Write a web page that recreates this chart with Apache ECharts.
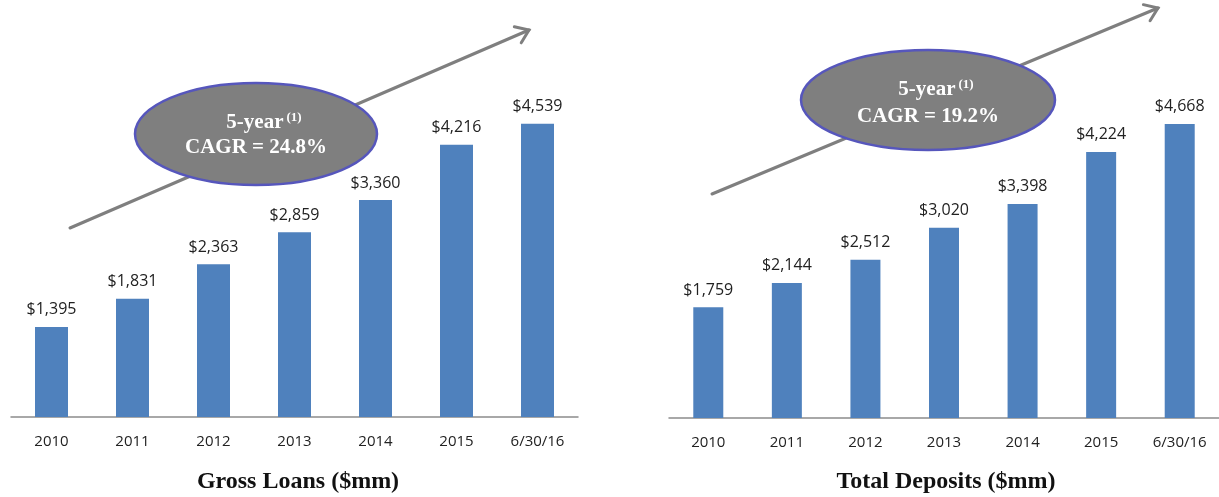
<!DOCTYPE html>
<html>
<head>
<meta charset="utf-8">
<script src="https://cdn.jsdelivr.net/npm/echarts@6/dist/echarts.min.js"></script>
<style>
html,body{margin:0;padding:0;background:#fff;}
#main{width:1219px;height:497px;}
</style>
</head>
<body>
<div id="main"></div>
<script>
var categories = ['2010', '2011', '2012', '2013', '2014', '2015', '6/30/16'];
var grossLoans = [1395, 1831, 2363, 2859, 3360, 4216, 4539];
var totalDeposits = [1759, 2144, 2512, 3020, 3398, 4224, 4668];
var leftTitle = 'Gross Loans ($mm)';
var rightTitle = 'Total Deposits ($mm)';
var leftCagr = 'CAGR = 24.8%';
var rightCagr = 'CAGR = 19.2%';

var chart = echarts.init(document.getElementById('main'));

function fmt(v) { return '$' + v.toLocaleString('en-US'); }

function arrow(x1, y1, x2, y2) {
  var ang = Math.atan2(y2 - y1, x2 - x1);
  var L = 15, spread = 0.62;
  var a1 = ang + Math.PI - spread, a2 = ang + Math.PI + spread;
  var style = { stroke: '#7f7f7f', lineWidth: 3, lineCap: 'round', lineJoin: 'miter' };
  return [
    { type: 'line', z: 1, shape: { x1: x1, y1: y1, x2: x2, y2: y2 }, style: style },
    { type: 'polyline', z: 1, shape: { points: [[x2 + L * Math.cos(a1), y2 + L * Math.sin(a1)], [x2, y2], [x2 + L * Math.cos(a2), y2 + L * Math.sin(a2)]] }, style: style }
  ];
}

function bubble(cx, cy, rx, ry, cagr, ty1, ty2) {
  return [
    { type: 'ellipse', z: 2, shape: { cx: cx, cy: cy, rx: rx, ry: ry },
      style: { fill: '#7f7f7f', stroke: '#5656bc', lineWidth: 2.5 } },
    { type: 'text', z: 3, x: cx + 8, y: ty1,
      style: { text: '{a|5-year}{s|(1)}', align: 'center', verticalAlign: 'middle',
        rich: {
          a: { fontFamily: 'Liberation Serif', fontWeight: 'bold', fontSize: 21, fill: '#ffffff' },
          s: { fontFamily: 'Liberation Serif', fontWeight: 'bold', fontSize: 13, fill: '#ffffff', verticalAlign: 'top', padding: [0, 0, 10, 3] }
        } } },
    { type: 'text', z: 3, x: cx, y: ty2,
      style: { text: cagr, align: 'center', verticalAlign: 'middle',
        fontFamily: 'Liberation Serif', fontWeight: 'bold', fontSize: 21, fill: '#ffffff' } }
  ];
}

var graphics = []
  .concat(arrow(70, 228, 529, 30))
  .concat(arrow(712, 194, 1158, 8))
  .concat(bubble(256, 134, 121, 51, leftCagr, 123, 148))
  .concat(bubble(928, 100, 127, 50, rightCagr, 90, 117))
  .concat([
    { type: 'text', x: 298, y: 482, style: { text: leftTitle, align: 'center', verticalAlign: 'middle',
      fontFamily: 'Liberation Serif', fontWeight: 'bold', fontSize: 24, fill: '#111' } },
    { type: 'text', x: 946, y: 482, style: { text: rightTitle, align: 'center', verticalAlign: 'middle',
      fontFamily: 'Liberation Serif', fontWeight: 'bold', fontSize: 24, fill: '#111' } }
  ]);

function xAx(gi) {
  return {
    type: 'category', gridIndex: gi, data: categories,
    axisLine: { lineStyle: { color: '#8c8c8c', width: 1.5 } },
    axisTick: { show: false },
    axisLabel: { color: '#222', fontFamily: 'Open Sans', fontSize: 15, margin: 17, interval: 0 }
  };
}
function yAx(gi) {
  return { type: 'value', gridIndex: gi, min: 0, max: 5000, show: false, splitLine: { show: false } };
}
function ser(i, data, bw) {
  return {
    type: 'bar', xAxisIndex: i, yAxisIndex: i, data: data, barWidth: bw,
    itemStyle: { color: '#4f81bd' },
    label: { show: true, position: 'top', distance: 9, formatter: function (p) { return fmt(p.value); },
      color: '#222', fontFamily: 'Open Sans', fontSize: 16 },
    z: 5
  };
}

chart.setOption({
  animation: false,
  backgroundColor: '#ffffff',
  grid: [
    { left: 11, top: 94, width: 567, height: 323 },
    { left: 669, top: 103, width: 556, height: 315 }
  ],
  xAxis: [xAx(0), xAx(1)],
  yAxis: [yAx(0), yAx(1)],
  series: [ser(0, grossLoans, 33), ser(1, totalDeposits, 30)],
  graphic: graphics
});
</script>
</body>
</html>
